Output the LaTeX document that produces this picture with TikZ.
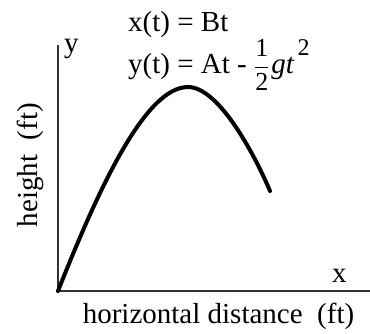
\documentclass[tikz,border=0pt]{standalone}
\usepackage{fontspec}
\setmainfont{Liberation Serif}
\begin{document}
\begin{tikzpicture}[x=1pt,y=-1pt,
  lbl/.style={inner sep=0pt,font=\fontsize{29}{34}\selectfont},
  axis/.style={line width=1.3pt,black!80},
  traj/.style={line width=4pt,line cap=round,line join=round}]
\useasboundingbox (0,0) rectangle (370,333);
\coordinate (o) at (58,291);
\coordinate (ytop) at (58,45);
\coordinate (xend) at (370,291);
\coordinate (peak) at (188,87);
\coordinate (land) at (270,191);
\draw[axis] (ytop) -- (o) -- (xend);
\draw[traj] (o) .. controls (98,190) and (145,87) .. (peak)
                .. controls (220,87) and (257,160) .. (land);
\node[lbl,anchor=base west] (ylab) at (64,52) {y};
\node[lbl,anchor=base west] (xlab) at (332,282) {x};
\node[lbl,anchor=base west] (eqx) at (128,31) {x(t) = Bt};
\node[lbl,anchor=base west] (eqy) at (128,73) {y(t) = At - $\displaystyle\frac{\mbox{\fontsize{26}{30}\selectfont 1}}{\mbox{\fontsize{26}{30}\selectfont 2}}$\kern2pt\textit{gt}\kern3pt\raisebox{18pt}{\fontsize{24}{28}\selectfont 2}};
\node[lbl,anchor=base] (hd) at (218.5,323) {horizontal distance\ \ (ft)};
\node[lbl,rotate=90] (ht) at (30,165) {height\ \ (ft)};
\end{tikzpicture}
\end{document}
